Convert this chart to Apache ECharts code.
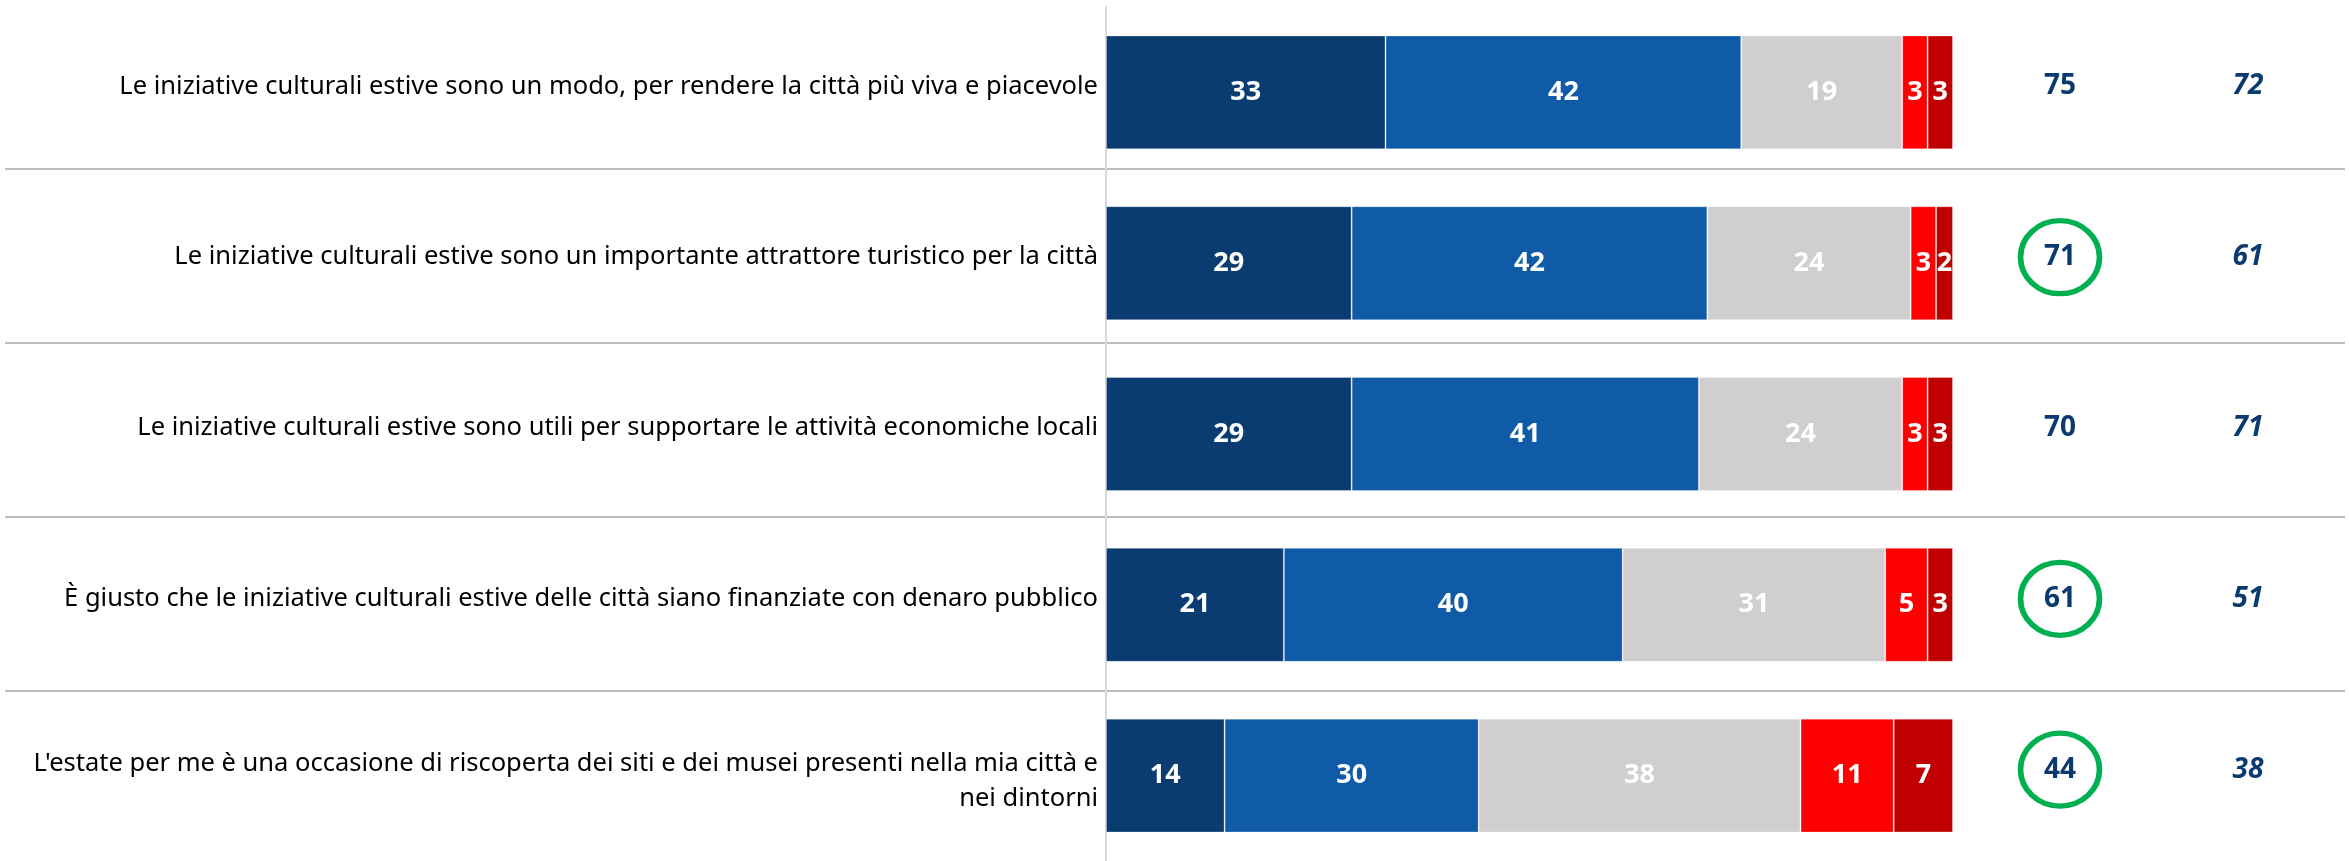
<!DOCTYPE html>
<html>
<head>
<meta charset="utf-8">
<script src="https://cdn.jsdelivr.net/npm/echarts@6/dist/echarts.min.js"></script>
<style>
  html, body { margin: 0; padding: 0; background: #ffffff; }
  #chart { width: 2349px; height: 861px; }
</style>
</head>
<body>
<div id="chart"></div>
<script>
// Statements about summer cultural initiatives
const statements = [
  "Le iniziative culturali estive sono un modo, per rendere la città più viva e piacevole",
  "Le iniziative culturali estive sono un importante attrattore turistico per la città",
  "Le iniziative culturali estive sono utili per supportare le attività economiche locali",
  "È giusto che le iniziative culturali estive delle città siano finanziate con denaro pubblico",
  "L'estate per me è una occasione di riscoperta dei siti e dei musei presenti nella mia città e\nnei dintorni"
];

// Answer shares (%) per statement
const moltoAccordo      = [33, 29, 29, 21, 14];
const abbastanzaAccordo = [42, 42, 41, 40, 30];
const neUnoNeAltro      = [19, 24, 24, 31, 38];
const pocoAccordo       = [3, 3, 3, 5, 11];
const perNullaAccordo   = [3, 2, 3, 3, 7];

// Total agreement and comparison values
const totaleAccordo  = [75, 71, 70, 61, 44];
const confronto      = [72, 61, 71, 51, 38];
const evidenziato    = [false, true, false, true, true];

const summaryColumns = ["totale", "confronto"];

const FONT = "'Noto Sans', 'Open Sans', sans-serif";
const NAVY = "#0B3A6F";

const segments = [
  { name: "Molto d'accordo", data: moltoAccordo, color: "#0A3B71" },
  { name: "Abbastanza d'accordo", data: abbastanzaAccordo, color: "#0F5BA7" },
  { name: "Né d'accordo né in disaccordo", data: neUnoNeAltro, color: "#D0CECE" },
  { name: "Poco d'accordo", data: pocoAccordo, color: "#FF0000" },
  { name: "Per nulla d'accordo", data: perNullaAccordo, color: "#C00000" }
];

const barSeries = segments.map(s => ({
  name: s.name,
  type: "bar",
  stack: "risposte",
  xAxisIndex: 0,
  yAxisIndex: 0,
  barCategoryGap: "33.3%",
  itemStyle: { color: s.color, borderColor: "rgba(255,255,255,0.3)", borderWidth: 1 },
  label: {
    show: true,
    position: "inside",
    color: "#ffffff",
    fontFamily: FONT,
    fontWeight: "bold",
    fontSize: 27
  },
  data: s.data
}));

const totalSeries = {
  type: "scatter",
  xAxisIndex: 1,
  yAxisIndex: 1,
  data: totaleAccordo.map((v, i) => ({
    value: [summaryColumns[0], i, v],
    symbolSize: evidenziato[i] ? [79, 73] : 1,
    itemStyle: evidenziato[i]
      ? { color: "rgba(0,0,0,0)", borderColor: "#00B050", borderWidth: 5.5, opacity: 1 }
      : { color: "rgba(0,0,0,0)", borderColor: "rgba(0,0,0,0)", borderWidth: 0, opacity: 1 }
  })),
  label: {
    show: true,
    position: "inside",
    formatter: p => p.value[2],
    color: NAVY,
    fontFamily: FONT,
    fontWeight: "bold",
    fontSize: 28
  }
};

const compareSeries = {
  type: "scatter",
  xAxisIndex: 1,
  yAxisIndex: 1,
  symbolSize: 1,
  itemStyle: { color: "rgba(0,0,0,0)", opacity: 1 },
  data: confronto.map((v, i) => [summaryColumns[1], i, v]),
  label: {
    show: true,
    position: "inside",
    formatter: p => p.value[2],
    color: NAVY,
    fontFamily: FONT,
    fontWeight: "bold",
    fontStyle: "italic",
    fontSize: 28
  }
};

// Row separators across the whole width
const separatorY = [169, 343, 517, 691];
const separators = separatorY.map(y => ({
  type: "line",
  shape: { x1: 5, y1: y, x2: 2345, y2: y },
  style: { stroke: "#BFBFBF", lineWidth: 2 },
  z: 0
}));

// Single-line statements sit slightly above the bar centre; the wrapped one slightly below
function statementLabel(text) {
  const lines = text.split("\n");
  if (lines.length === 1) return "{one|" + text + "}";
  return lines.map((l, i) => (i === 0 ? "{first|" : "{next|") + l + "}").join("\n");
}

const labelText = { fontFamily: FONT, fontSize: 25.5, color: "#000000", align: "right" };

const chart = echarts.init(document.getElementById("chart"), null, { renderer: "canvas" });
chart.setOption({
  animation: false,
  backgroundColor: "#ffffff",
  grid: [
    { left: 1106, right: 396, top: 7, bottom: 0, containLabel: false, outerBoundsMode: "none" },
    { left: 1966, right: 7, top: 1, bottom: 6, containLabel: false, outerBoundsMode: "none" }
  ],
  xAxis: [
    { type: "value", gridIndex: 0, min: 0, max: 100, show: false },
    { type: "category", gridIndex: 1, data: summaryColumns, show: false }
  ],
  yAxis: [
    {
      type: "category",
      gridIndex: 0,
      inverse: true,
      data: statements,
      axisTick: { show: false },
      axisLine: { show: true, lineStyle: { color: "#D9D9D9", width: 2 } },
      axisLabel: {
        margin: 8,
        color: "#000000",
        fontFamily: FONT,
        fontSize: 25.5,
        align: "right",
        formatter: statementLabel,
        rich: {
          one: Object.assign({ lineHeight: 37, padding: [0, 0, 12, 0] }, labelText),
          first: Object.assign({ lineHeight: 37, padding: [13, 0, 0, 0] }, labelText),
          next: Object.assign({ lineHeight: 37, padding: [9, 0, 0, 0] }, labelText)
        }
      }
    },
    {
      type: "category",
      gridIndex: 1,
      inverse: true,
      data: statements.map((_, i) => i),
      show: false
    }
  ],
  graphic: separators,
  series: [...barSeries, totalSeries, compareSeries]
});
</script>
</body>
</html>
